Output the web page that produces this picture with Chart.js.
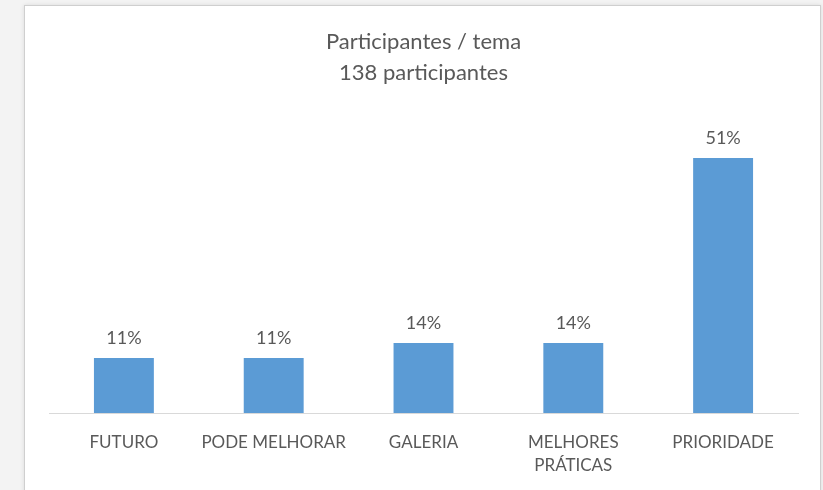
<!DOCTYPE html>
<html>
<head>
<meta charset="utf-8">
<script src="https://cdn.jsdelivr.net/npm/chart.js@4"></script>
<style>
    body { margin: 0; background: #f3f3f3; width: 823px; height: 490px; overflow: hidden; }
    #card {
        position: absolute; left: 24px; top: 5px; width: 795px; height: 490px;
        background: #fff; border: 1px solid #cfcfcf; box-shadow: 0 0 4px rgba(0,0,0,0.10);
    }
    canvas { display: block; }
</style>
</head>
<body>
<div id="card"><canvas id="grafico" width="795" height="485"></canvas></div>
<script>
// Dados do gráfico
const categorias = ['FUTURO', 'PODE MELHORAR', 'GALERIA', ['MELHORES', 'PRÁTICAS'], 'PRIORIDADE'];
const percentuais = [11, 11, 14, 14, 51];
const tituloLinhas = ['Participantes / tema', '138 participantes'];

const corTexto = '#595959';
const fonte = 'Lato, "Open Sans", sans-serif';

// Rótulos de valor acima das barras
const rotulosPlugin = {
    id: 'rotulos',
    afterDatasetsDraw(chart) {
        const ctx = chart.ctx;
        const meta = chart.getDatasetMeta(0);
        ctx.save();
        ctx.fillStyle = corTexto;
        ctx.font = '18px ' + fonte;
        ctx.textAlign = 'center';
        ctx.textBaseline = 'middle';
        meta.data.forEach(function (bar, i) {
            ctx.fillText(percentuais[i] + '%', bar.x, bar.y - 20);
        });
        ctx.restore();
    }
};

const ctx = document.getElementById('grafico').getContext('2d');
new Chart(ctx, {
    type: 'bar',
    data: {
        labels: categorias,
        datasets: [{
            data: percentuais,
            backgroundColor: '#5b9bd5',
            barPercentage: 0.4,
            categoryPercentage: 1
        }]
    },
    options: {
        responsive: false,
        animation: false,
        layout: { padding: { left: 24, right: 22, top: 0, bottom: 0 } },
        plugins: {
            legend: { display: false },
            tooltip: { enabled: false },
            title: {
                display: true,
                text: tituloLinhas,
                color: corTexto,
                font: { family: fonte, size: 22, weight: 'normal', lineHeight: 1.41 },
                padding: { top: 20, bottom: 25 }
            }
        },
        scales: {
            y: {
                display: false,
                min: 0,
                max: 60
            },
            x: {
                grid: { display: false },
                border: { display: true, color: '#d9d9d9', width: 1 },
                ticks: {
                    color: corTexto,
                    font: { family: fonte, size: 17, lineHeight: 1.35 },
                    padding: 10,
                    maxRotation: 0,
                    autoSkip: false
                },
                afterFit: function (scale) { scale.height = 78; }
            }
        }
    },
    plugins: [rotulosPlugin]
});
</script>
</body>
</html>
